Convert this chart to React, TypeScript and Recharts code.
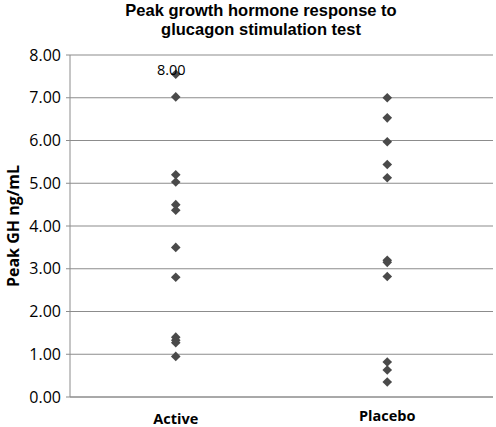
import React from "react";
import { ScatterChart, Scatter, XAxis, YAxis, CartesianGrid } from "recharts";

const groups = ["Active", "Placebo"];
const groupPos = [0.5, 1.5];
const activeValues = [7.55, 7.02, 5.2, 5.03, 4.5, 4.37, 3.5, 2.8, 1.4, 1.33, 1.27, 0.95];
const placeboValues = [7.0, 6.53, 5.97, 5.44, 5.13, 3.2, 3.15, 2.82, 0.82, 0.63, 0.35];
const yTicks = [0, 1, 2, 3, 4, 5, 6, 7, 8];
const outlierLabel = "8.00";

const activeData = activeValues.map(v => ({ x: groupPos[0], y: v }));
const placeboData = placeboValues.map(v => ({ x: groupPos[1], y: v }));

const MARKER = "#4a4a4a";
const GRID = "#8c8c8c";
const FONT = "'Open Sans', 'Noto Sans', sans-serif";

const Diamond = (props: any) => {
  const { cx, cy } = props;
  if (cx == null || cy == null) return null;
  const r = 4.8;
  return (
    <polygon
      points={`${cx},${cy - r} ${cx + r},${cy} ${cx},${cy + r} ${cx - r},${cy}`}
      fill={MARKER}
    />
  );
};

const XTick = (props: any) => {
  const { x, y, payload, index } = props;
  const i = groupPos.indexOf(payload.value);
  return (
    <text
      x={x}
      y={y + (index === 0 ? 19 : 16)}
      textAnchor="middle"
      fontFamily={FONT}
      fontWeight="bold"
      fontSize={14.5}
      fill="#000"
    >
      {groups[i]}
    </text>
  );
};

export default function App() {
  return (
    <div style={{ position: "relative", width: 496, height: 427, background: "#fff" }}>
      <style>{`body{margin:0}`}</style>
      <div
        style={{
          position: "absolute",
          left: 0,
          top: 0,
          width: 522,
          textAlign: "center",
          fontFamily: "'Liberation Sans', Arial, sans-serif",
          fontWeight: "bold",
          fontSize: 16.5,
          lineHeight: "19px",
          paddingTop: 1,
        }}
      >
        Peak growth hormone response to
        <br />
        glucagon stimulation test
      </div>
      <ScatterChart width={496} height={427} margin={{ top: 55, right: 3, bottom: 0, left: 0 }}>
        <CartesianGrid horizontal vertical={false} stroke={GRID} strokeWidth={1.2} />
        <XAxis
          type="number"
          dataKey="x"
          domain={[0, 2]}
          ticks={groupPos}
          height={30}
          axisLine={{ stroke: GRID }}
          tickLine={false}
          tick={<XTick />}
        />
        <YAxis
          type="number"
          dataKey="y"
          domain={[0, 8]}
          ticks={yTicks}
          width={70}
          axisLine={{ stroke: GRID }}
          tickLine={{ stroke: GRID }}
          tickSize={4}
          tickMargin={5}
          tickFormatter={(v: number) => v.toFixed(2)}
          tick={{ fontFamily: FONT, fontSize: 16, fill: "#000" }}
          label={{
            content: ({ viewBox }: any) => (
              <text
                x={0}
                y={0}
                transform={`translate(19, ${viewBox.y + viewBox.height / 2}) rotate(-90)`}
                textAnchor="middle"
                fontFamily={FONT}
                fontWeight="bold"
                fontSize={16}
                fill="#000"
              >
                Peak GH ng/mL
              </text>
            ),
          }}
        />
        <Scatter data={activeData} shape={<Diamond />} isAnimationActive={false}
          label={{
            content: (p: any) =>
              p.index === 0 ? (
                <text x={p.x} y={p.y} dy={5} textAnchor="middle" fontFamily={FONT} fontSize={14.5} fill="#000">
                  {outlierLabel}
                </text>
              ) : null,
          }}
        />
        <Scatter data={placeboData} shape={<Diamond />} isAnimationActive={false} />
      </ScatterChart>
    </div>
  );
}
